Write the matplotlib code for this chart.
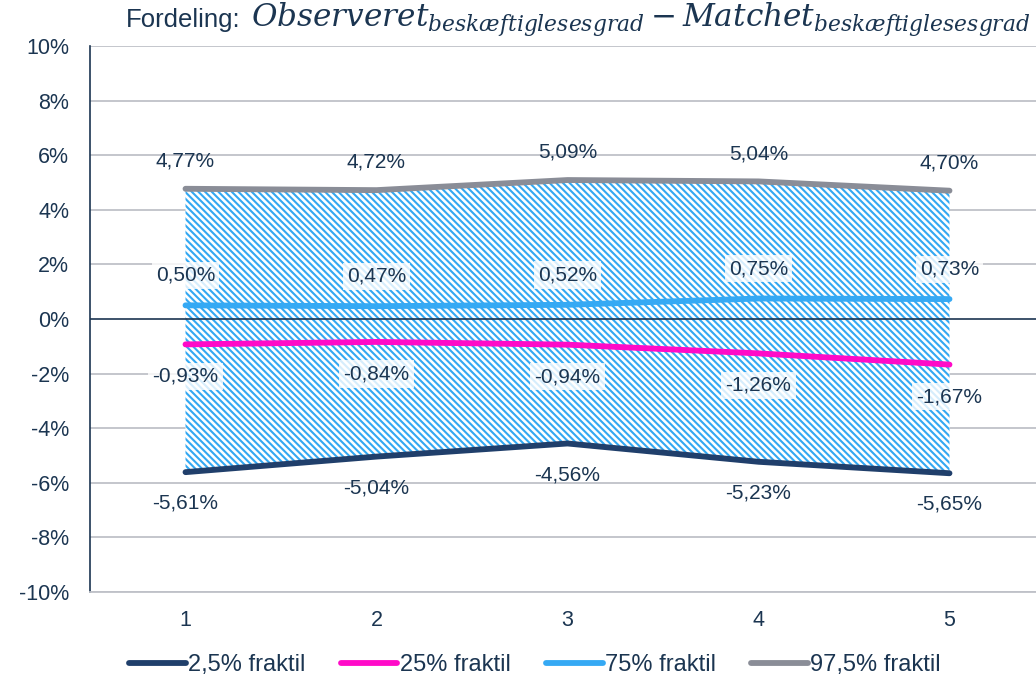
import matplotlib

matplotlib.use("Agg")
import matplotlib.pyplot as plt
import numpy as np

# Quantiles of observed minus matched employment rate, in percent
positions = [1, 2, 3, 4, 5]
q025 = [-5.61, -5.04, -4.56, -5.23, -5.65]
q25 = [-0.93, -0.84, -0.94, -1.26, -1.67]
q75 = [0.50, 0.47, 0.52, 0.75, 0.73]
q975 = [4.77, 4.72, 5.09, 5.04, 4.70]
series_names = ["2,5% fraktil", "25% fraktil", "75% fraktil", "97,5% fraktil"]
y_ticks = [-10, -8, -6, -4, -2, 0, 2, 4, 6, 8, 10]

TEXT = "#1B3551"
GRID = "#BFC1C8"
COLORS = ["#203F6B", "#FF0AC8", "#35A9F4", "#8A8D97"]

plt.rcParams["font.family"] = ["Liberation Sans", "DejaVu Sans"]
plt.rcParams["mathtext.fontset"] = "dejavuserif"
plt.rcParams["hatch.linewidth"] = 1.5
plt.rcParams["hatch.color"] = "#33A8F2"

fig = plt.figure(figsize=(10.36, 6.85), dpi=100)
ax = fig.add_axes([90 / 1036, 1 - 592 / 685, 946 / 1036, 546 / 685])

ax.set_xlim(0.5, 0.5 + 946 / 191)
ax.set_ylim(-10, 10)

for y in y_ticks:
    if y == 0:
        continue
    ax.axhline(y, color=GRID, linewidth=1.3, zorder=0)
ax.axhline(0, color=TEXT, linewidth=1.2, zorder=2)

# hatched band between the outer quantiles
ax.fill_between(positions, q025, q975, facecolor="white",
                hatch="\\" * 5, linewidth=0, zorder=1)

x = np.array(positions)
all_series = [q025, q25, q75, q975]
for vals, name, color in zip(all_series, series_names, COLORS):
    ax.plot(x, vals, color=color, linewidth=4.2, solid_capstyle="round",
            label=name, zorder=3)


def fmt(v):
    return f"{v:.2f}%".replace(".", ",")


box = dict(boxstyle="square,pad=0.2", facecolor="white", edgecolor="none", alpha=0.8)
label_specs = [(q975, 20, None), (q75, 21.5, box), (q25, -23, box), (q025, -22.5, None)]
for vals, dy, bbox in label_specs:
    for xi, v in zip(positions, vals):
        ax.annotate(fmt(v), (xi, v), xytext=(0, dy), textcoords="offset points",
                    ha="center", va="center", fontsize=15, color=TEXT,
                    bbox=bbox, zorder=4)

ax.set_yticks(y_ticks)
ax.set_yticklabels([f"{t}%" for t in y_ticks])
ax.set_xticks(positions)
ax.set_xticklabels([str(p) for p in positions])
ax.tick_params(axis="both", length=0, labelsize=15.5, colors=TEXT)
ax.tick_params(axis="y", pad=15)
ax.tick_params(axis="x", pad=13)

for side in ["top", "right"]:
    ax.spines[side].set_visible(False)
ax.spines["left"].set_color(TEXT)
ax.spines["left"].set_linewidth(1.2)
ax.spines["bottom"].set_color(GRID)
ax.spines["bottom"].set_linewidth(1.3)

# title: plain prefix followed by a larger math expression
math_title = fig.text(1030 / 1036, 1 - 27 / 685,
                      r"$Observeret_{beskæftiglesesgrad} - Matchet_{beskæftiglesesgrad}$",
                      ha="right", va="baseline", fontsize=22.4, color=TEXT)
fig.canvas.draw()
bb = math_title.get_window_extent()
fig.text((bb.x0 - 10) / 1036, 1 - 27 / 685, "Fordeling:", ha="right", va="baseline",
         fontsize=18.5, color=TEXT)

fig.legend(loc="center", bbox_to_anchor=(535 / 1036, 1 - 665 / 685), ncol=4, frameon=False,
           fontsize=17, labelcolor=TEXT, handlelength=2.4, handletextpad=0.1,
           columnspacing=1.5)

fig.savefig("out.png", dpi=100)
